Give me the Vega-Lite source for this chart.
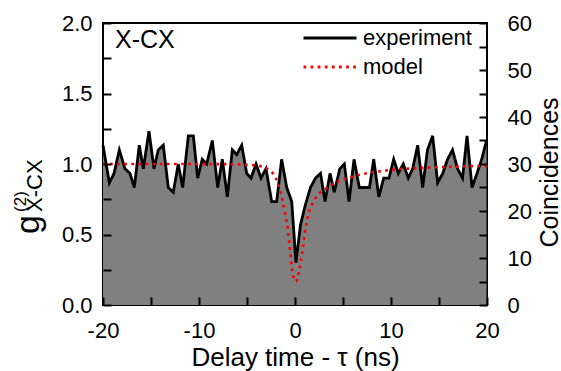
{
  "$schema": "https://vega.github.io/schema/vega-lite/v6.json",
  "width": 384,
  "height": 282,
  "autosize": {"type": "none"},
  "padding": {"left": 103, "top": 23, "right": 74, "bottom": 66},
  "config": {
    "font": "Liberation Sans",
    "view": {"stroke": "black", "strokeWidth": 2},
    "axis": {
      "domain": false,
      "grid": false,
      "ticks": true,
      "offset": -8,
      "labelFlush": false,
      "labelFont": "Liberation Sans",
      "labelFontSize": 22,
      "labelColor": "black",
      "tickColor": "#000000",
      "tickOpacity": 1,
      "tickWidth": 2,
      "tickSize": 8,
      "titleFont": "Liberation Sans",
      "titleFontSize": 25,
      "titleFontWeight": "normal",
      "titleColor": "black"
    },
    "legend": {
      "labelFont": "Liberation Sans",
      "labelFontSize": 22,
      "labelColor": "black",
      "symbolType": "stroke",
      "symbolSize": 2809,
      "symbolStrokeWidth": 2.8,
      "labelOffset": 5,
      "clipHeight": 22,
      "rowPadding": 7
    }
  },
  "encoding": {
    "x": {
      "field": "t",
      "type": "quantitative",
      "scale": {"domain": [-20, 20], "nice": false, "zero": false},
      "axis": {
        "zindex": 1,
        "values": [-20, -15, -10, -5, 0, 5, 10, 15, 20],
        "labelExpr": "datum.value % 10 === 0 ? (datum.value < 0 ? '-' + format(-datum.value, 'd') : format(datum.value, 'd')) : ''",
        "labelPadding": 15,
        "title": "Delay time - τ (ns)",
        "titleFontSize": 26,
        "titleY": 68,
        "titleBaseline": "alphabetic"
      }
    }
  },
  "layer": [
    {
      "data": {
        "values": [
          {"t": -20, "c": 34, "series": "experiment"},
          {"t": -19.34, "c": 26, "series": "experiment"},
          {"t": -18.85, "c": 28, "series": "experiment"},
          {"t": -18.3, "c": 33, "series": "experiment"},
          {"t": -17.71, "c": 29, "series": "experiment"},
          {"t": -17.19, "c": 28, "series": "experiment"},
          {"t": -16.74, "c": 25, "series": "experiment"},
          {"t": -16.22, "c": 34, "series": "experiment"},
          {"t": -15.8, "c": 29, "series": "experiment"},
          {"t": -15.21, "c": 37, "series": "experiment"},
          {"t": -14.69, "c": 29, "series": "experiment"},
          {"t": -14.24, "c": 33, "series": "experiment"},
          {"t": -13.72, "c": 34, "series": "experiment"},
          {"t": -13.2, "c": 25, "series": "experiment"},
          {"t": -12.68, "c": 24, "series": "experiment"},
          {"t": -12.16, "c": 30, "series": "experiment"},
          {"t": -11.7, "c": 25, "series": "experiment"},
          {"t": -11.11, "c": 36, "series": "experiment"},
          {"t": -10.59, "c": 36, "series": "experiment"},
          {"t": -10.14, "c": 27, "series": "experiment"},
          {"t": -9.66, "c": 31, "series": "experiment"},
          {"t": -9.2, "c": 30, "series": "experiment"},
          {"t": -8.61, "c": 35, "series": "experiment"},
          {"t": -8.05, "c": 25, "series": "experiment"},
          {"t": -7.57, "c": 31, "series": "experiment"},
          {"t": -7.05, "c": 23, "series": "experiment"},
          {"t": -6.53, "c": 33, "series": "experiment"},
          {"t": -6.07, "c": 32, "series": "experiment"},
          {"t": -5.55, "c": 34, "series": "experiment"},
          {"t": -5.03, "c": 28, "series": "experiment"},
          {"t": -4.58, "c": 27, "series": "experiment"},
          {"t": -4.06, "c": 30, "series": "experiment"},
          {"t": -3.54, "c": 27, "series": "experiment"},
          {"t": -3.02, "c": 29, "series": "experiment"},
          {"t": -2.43, "c": 22, "series": "experiment"},
          {"t": -1.91, "c": 22, "series": "experiment"},
          {"t": -1.39, "c": 31, "series": "experiment"},
          {"t": -0.86, "c": 25, "series": "experiment"},
          {"t": -0.34, "c": 22, "series": "experiment"},
          {"t": 0.1, "c": 9, "series": "experiment"},
          {"t": 0.57, "c": 17, "series": "experiment"},
          {"t": 1.04, "c": 21, "series": "experiment"},
          {"t": 1.61, "c": 25, "series": "experiment"},
          {"t": 2.14, "c": 27, "series": "experiment"},
          {"t": 2.66, "c": 28, "series": "experiment"},
          {"t": 3.13, "c": 22, "series": "experiment"},
          {"t": 3.65, "c": 28, "series": "experiment"},
          {"t": 4.09, "c": 24, "series": "experiment"},
          {"t": 4.67, "c": 29, "series": "experiment"},
          {"t": 5.14, "c": 30, "series": "experiment"},
          {"t": 5.63, "c": 22, "series": "experiment"},
          {"t": 6.15, "c": 31, "series": "experiment"},
          {"t": 6.7, "c": 25, "series": "experiment"},
          {"t": 7.19, "c": 25, "series": "experiment"},
          {"t": 7.76, "c": 25, "series": "experiment"},
          {"t": 8.2, "c": 31, "series": "experiment"},
          {"t": 8.73, "c": 23, "series": "experiment"},
          {"t": 9.24, "c": 27, "series": "experiment"},
          {"t": 9.79, "c": 27, "series": "experiment"},
          {"t": 10.28, "c": 31, "series": "experiment"},
          {"t": 10.76, "c": 28, "series": "experiment"},
          {"t": 11.28, "c": 30, "series": "experiment"},
          {"t": 11.8, "c": 27, "series": "experiment"},
          {"t": 12.26, "c": 29, "series": "experiment"},
          {"t": 12.78, "c": 34, "series": "experiment"},
          {"t": 13.3, "c": 25, "series": "experiment"},
          {"t": 13.8, "c": 33, "series": "experiment"},
          {"t": 14.34, "c": 36, "series": "experiment"},
          {"t": 14.86, "c": 26, "series": "experiment"},
          {"t": 15.39, "c": 28, "series": "experiment"},
          {"t": 15.89, "c": 31, "series": "experiment"},
          {"t": 16.41, "c": 33, "series": "experiment"},
          {"t": 16.93, "c": 29, "series": "experiment"},
          {"t": 17.45, "c": 27, "series": "experiment"},
          {"t": 17.92, "c": 36, "series": "experiment"},
          {"t": 18.44, "c": 25, "series": "experiment"},
          {"t": 18.96, "c": 28, "series": "experiment"},
          {"t": 19.45, "c": 31, "series": "experiment"},
          {"t": 19.95, "c": 35, "series": "experiment"}
        ]
      },
      "encoding": {
        "y": {
          "field": "c",
          "type": "quantitative",
          "scale": {"domain": [0, 60], "nice": false, "zero": true},
          "axis": {
            "zindex": 1,
            "orient": "right",
            "values": [0, 5, 10, 15, 20, 25, 30, 35, 40, 45, 50, 55, 60],
            "labelExpr": "datum.value % 10 === 0 ? format(datum.value, 'd') : ''",
            "labelPadding": 20,
            "labelAlign": "left",
            "title": "Coincidences",
            "titleAngle": 270,
            "titleX": 78,
            "titleY": 149,
            "titleAlign": "center",
            "titleBaseline": "alphabetic"
          }
        }
      },
      "layer": [
        {"mark": {"type": "area", "color": "#808080", "opacity": 1}},
        {
          "mark": {"type": "line", "strokeWidth": 2.8},
          "encoding": {
            "color": {
              "field": "series",
              "type": "nominal",
              "scale": {"domain": ["experiment", "model"], "range": ["#000000", "#ff0000"]},
              "legend": {"orient": "none", "legendX": 199, "legendY": 4, "title": null}
            },
            "strokeDash": {
              "field": "series",
              "type": "nominal",
              "scale": {"domain": ["experiment", "model"], "range": [[1, 0], [2.7, 4.4]]},
              "legend": {"orient": "none", "legendX": 199, "legendY": 4, "title": null}
            }
          }
        }
      ]
    },
    {
      "encoding": {
        "y": {
          "field": "g",
          "type": "quantitative",
          "scale": {"domain": [0, 2], "nice": false, "zero": true},
          "axis": {
            "zindex": 1,
            "orient": "left",
            "values": [0, 0.25, 0.5, 0.75, 1, 1.25, 1.5, 1.75, 2],
            "labelExpr": "datum.value % 0.5 === 0 ? format(datum.value, '.1f') : ''",
            "labelPadding": 11,
            "title": null
          }
        }
      },
      "layer": [
        {
          "data": {
            "values": [
              {"t": -20, "g": 1.0, "series": "model"},
              {"t": -16, "g": 1.0, "series": "model"},
              {"t": -12, "g": 1.0, "series": "model"},
              {"t": -8, "g": 0.999, "series": "model"},
              {"t": -6, "g": 0.997, "series": "model"},
              {"t": -5, "g": 0.994, "series": "model"},
              {"t": -4, "g": 0.99, "series": "model"},
              {"t": -3.5, "g": 0.983, "series": "model"},
              {"t": -3, "g": 0.97, "series": "model"},
              {"t": -2.5, "g": 0.948, "series": "model"},
              {"t": -2, "g": 0.9, "series": "model"},
              {"t": -1.75, "g": 0.855, "series": "model"},
              {"t": -1.5, "g": 0.795, "series": "model"},
              {"t": -1.25, "g": 0.725, "series": "model"},
              {"t": -1, "g": 0.64, "series": "model"},
              {"t": -0.75, "g": 0.54, "series": "model"},
              {"t": -0.6, "g": 0.45, "series": "model"},
              {"t": -0.5, "g": 0.38, "series": "model"},
              {"t": -0.35, "g": 0.28, "series": "model"},
              {"t": -0.2, "g": 0.21, "series": "model"},
              {"t": 0, "g": 0.175, "series": "model"},
              {"t": 0.1, "g": 0.165, "series": "model"},
              {"t": 0.25, "g": 0.19, "series": "model"},
              {"t": 0.45, "g": 0.25, "series": "model"},
              {"t": 0.75, "g": 0.37, "series": "model"},
              {"t": 1, "g": 0.5, "series": "model"},
              {"t": 1.25, "g": 0.6, "series": "model"},
              {"t": 1.5, "g": 0.67, "series": "model"},
              {"t": 1.75, "g": 0.71, "series": "model"},
              {"t": 2, "g": 0.745, "series": "model"},
              {"t": 2.5, "g": 0.79, "series": "model"},
              {"t": 3, "g": 0.815, "series": "model"},
              {"t": 4, "g": 0.86, "series": "model"},
              {"t": 5, "g": 0.89, "series": "model"},
              {"t": 6, "g": 0.91, "series": "model"},
              {"t": 7, "g": 0.928, "series": "model"},
              {"t": 8, "g": 0.94, "series": "model"},
              {"t": 9, "g": 0.95, "series": "model"},
              {"t": 10, "g": 0.958, "series": "model"},
              {"t": 12, "g": 0.968, "series": "model"},
              {"t": 14, "g": 0.975, "series": "model"},
              {"t": 16, "g": 0.98, "series": "model"},
              {"t": 18, "g": 0.984, "series": "model"},
              {"t": 20, "g": 0.987, "series": "model"}
            ]
          },
          "mark": {"type": "line", "strokeWidth": 2.7, "interpolate": "monotone"},
          "encoding": {
            "color": {
              "field": "series",
              "type": "nominal",
              "scale": {"domain": ["experiment", "model"], "range": ["#000000", "#ff0000"]},
              "legend": {"orient": "none", "legendX": 199, "legendY": 4, "title": null}
            },
            "strokeDash": {
              "field": "series",
              "type": "nominal",
              "scale": {"domain": ["experiment", "model"], "range": [[1, 0], [2.7, 4.4]]},
              "legend": {"orient": "none", "legendX": 199, "legendY": 4, "title": null}
            }
          }
        },
        {
          "data": {"values": [{"t": -18.75, "g": 1.823, "label": "X-CX"}]},
          "mark": {"type": "text", "fontSize": 25, "align": "left", "baseline": "alphabetic", "color": "black"},
          "encoding": {"text": {"field": "label"}}
        },
        {
          "data": {"values": [{"t": -26.67, "g": 0.504, "label": "g"}]},
          "mark": {"type": "text", "fontSize": 34, "angle": 270, "align": "left", "baseline": "alphabetic", "color": "black"},
          "encoding": {"text": {"field": "label"}}
        },
        {
          "data": {"values": [{"t": -28.02, "g": 0.66, "label": "(2)"}]},
          "mark": {"type": "text", "fontSize": 17, "angle": 270, "align": "left", "baseline": "alphabetic", "color": "black"},
          "encoding": {"text": {"field": "label"}}
        },
        {
          "data": {"values": [{"t": -26.35, "g": 0.66, "label": "X-CX"}]},
          "mark": {"type": "text", "fontSize": 22, "angle": 270, "align": "left", "baseline": "alphabetic", "color": "black"},
          "encoding": {"text": {"field": "label"}}
        }
      ]
    }
  ],
  "resolve": {"scale": {"y": "independent"}}
}
